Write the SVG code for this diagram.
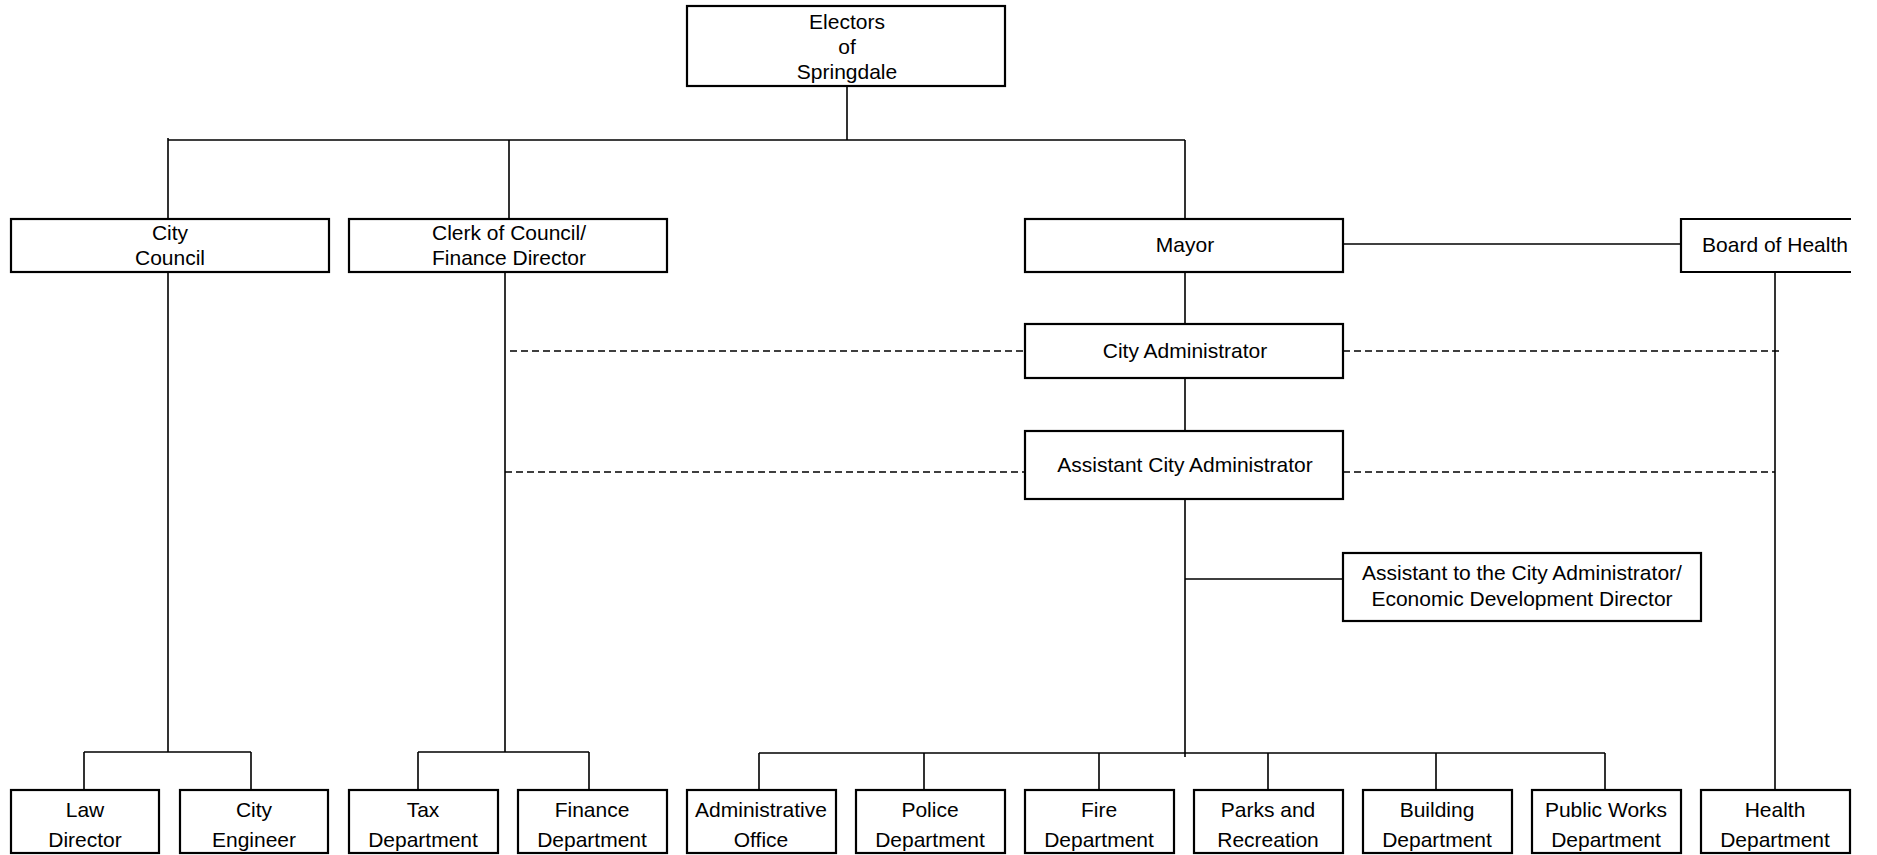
<svg xmlns="http://www.w3.org/2000/svg" width="1877" height="855" viewBox="0 0 1877 855">
<style>
.box{fill:#fff;stroke:#000;stroke-width:2.2}
.ln{stroke:#000;stroke-width:1.6;fill:none}
.dash{stroke:#000;stroke-width:1.6;fill:none;stroke-dasharray:7 4}
text{font-family:"Liberation Sans",Arial,sans-serif;font-size:21px;fill:#000;text-anchor:middle}
</style>
<rect width="1877" height="855" fill="#fff"/>
<g id="connectors">
<path class="ln" d="M847 86V140M168 140H1185M168 138V219M509 140V219M1185 140V219"/>
<path class="ln" d="M1343 244H1681" stroke="#444" stroke-width="2.2"/>
<path class="ln" d="M1185 272V324M1185 378V431M1185 499V757M1185 579H1343"/>
<path class="dash" d="M510 351H1025M1343 351H1780M505 472H1025M1343 472H1775"/>
<path class="ln" d="M168 272V752M84 752H251M84 752V790M251 752V790"/>
<path class="ln" d="M505 272V752M418 752H589M418 752V790M589 752V790"/>
<path class="ln" d="M759 753H1605M759 753V790M924 753V790M1099 753V790M1268 753V790M1436 753V790M1605 753V790"/>
<path class="ln" d="M1775 272V790"/>
</g>
<g id="electors"><rect class="box" x="687" y="6" width="318" height="80"/><text x="847" y="29">Electors</text><text x="847" y="54">of</text><text x="847" y="79">Springdale</text></g>
<g id="city-council"><rect class="box" x="11" y="219" width="318" height="53"/><text x="170" y="240">City</text><text x="170" y="265">Council</text></g>
<g id="clerk"><rect class="box" x="349" y="219" width="318" height="53"/><text x="509" y="240">Clerk of Council/</text><text x="509" y="265">Finance Director</text></g>
<g id="mayor"><rect class="box" x="1025" y="219" width="318" height="53"/><text x="1185" y="252">Mayor</text></g>
<g id="board-of-health"><path class="box" fill="#fff" d="M1851 219H1681V272H1851"/><text x="1775" y="252">Board of Health</text></g>
<g id="city-administrator"><rect class="box" x="1025" y="324" width="318" height="54"/><text x="1185" y="358">City Administrator</text></g>
<g id="assistant-city-administrator"><rect class="box" x="1025" y="431" width="318" height="68"/><text x="1185" y="472">Assistant City Administrator</text></g>
<g id="assistant-to-city-administrator"><rect class="box" x="1343" y="553" width="358" height="68"/><text x="1522" y="580">Assistant to the City Administrator/</text><text x="1522" y="606">Economic Development Director</text></g>
<g id="law-director"><rect class="box" x="11" y="790" width="148" height="63"/><text x="85" y="817">Law</text><text x="85" y="847">Director</text></g>
<g id="city-engineer"><rect class="box" x="180" y="790" width="148" height="63"/><text x="254" y="817">City</text><text x="254" y="847">Engineer</text></g>
<g id="tax-department"><rect class="box" x="349" y="790" width="149" height="63"/><text x="423" y="817">Tax</text><text x="423" y="847">Department</text></g>
<g id="finance-department"><rect class="box" x="518" y="790" width="149" height="63"/><text x="592" y="817">Finance</text><text x="592" y="847">Department</text></g>
<g id="administrative-office"><rect class="box" x="687" y="790" width="149" height="63"/><text x="761" y="817">Administrative</text><text x="761" y="847">Office</text></g>
<g id="police-department"><rect class="box" x="856" y="790" width="149" height="63"/><text x="930" y="817">Police</text><text x="930" y="847">Department</text></g>
<g id="fire-department"><rect class="box" x="1025" y="790" width="149" height="63"/><text x="1099" y="817">Fire</text><text x="1099" y="847">Department</text></g>
<g id="parks-and-recreation"><rect class="box" x="1194" y="790" width="149" height="63"/><text x="1268" y="817">Parks and</text><text x="1268" y="847">Recreation</text></g>
<g id="building-department"><rect class="box" x="1363" y="790" width="149" height="63"/><text x="1437" y="817">Building</text><text x="1437" y="847">Department</text></g>
<g id="public-works-department"><rect class="box" x="1532" y="790" width="149" height="63"/><text x="1606" y="817">Public Works</text><text x="1606" y="847">Department</text></g>
<g id="health-department"><rect class="box" x="1701" y="790" width="149" height="63"/><text x="1775" y="817">Health</text><text x="1775" y="847">Department</text></g>
</svg>
